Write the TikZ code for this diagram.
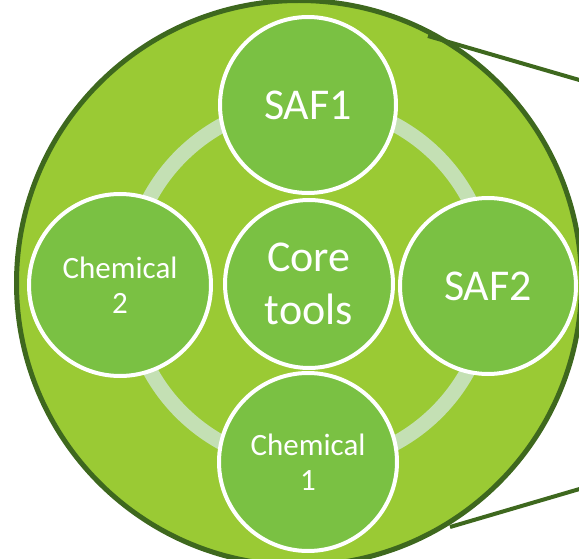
\documentclass[tikz,border=0pt]{standalone}
\usepackage{fontspec}
\setmainfont{Carlito}
\definecolor{outerfill}{RGB}{154,202,52}
\definecolor{innerfill}{RGB}{122,193,67}
\definecolor{darkrim}{RGB}{62,104,30}
\definecolor{ringc}{RGB}{196,224,180}
\begin{document}
\begin{tikzpicture}[x=1pt,y=-1pt,
  bub/.style={circle, draw=white, line width=4pt, fill=innerfill, minimum size=176pt, inner sep=0pt, text=white, align=center},
  bigfont/.style={font=\fontsize{44}{53}\selectfont},
  smallfont/.style={font=\fontsize{31}{35}\selectfont},
  zoomline/.style={draw=darkrim, line width=4pt}
]
\useasboundingbox (0,0) rectangle (579,559);
\clip (0,0) rectangle (579,559);
\node[circle, minimum size=565pt, inner sep=0pt, fill=outerfill, draw=darkrim, line width=5pt] (big) at (299,283) {};
\coordinate (t1) at (428,36);
\coordinate (t2) at (600,86);
\coordinate (b1) at (450,527);
\coordinate (b2) at (600,483);
\draw[zoomline] (t1) -- (t2);
\draw[zoomline] (b1) -- (b2);
\coordinate (ringcenter) at (309,284);
\draw[ringc, line width=15pt] (ringcenter) circle (181pt);
\node[bub, bigfont, minimum size=168pt] (core) at (309,284) {Core\\tools};
\node[bub, bigfont] (saf1) at (308,105) {SAF1};
\node[bub, bigfont] (saf2) at (488,286) {SAF2};
\node[bub, smallfont, minimum size=178pt] (chem1) at (308,462) {Chemical\\1};
\node[bub, smallfont, minimum size=182pt] (chem2) at (120,285) {Chemical\\2};
\end{tikzpicture}
\end{document}
